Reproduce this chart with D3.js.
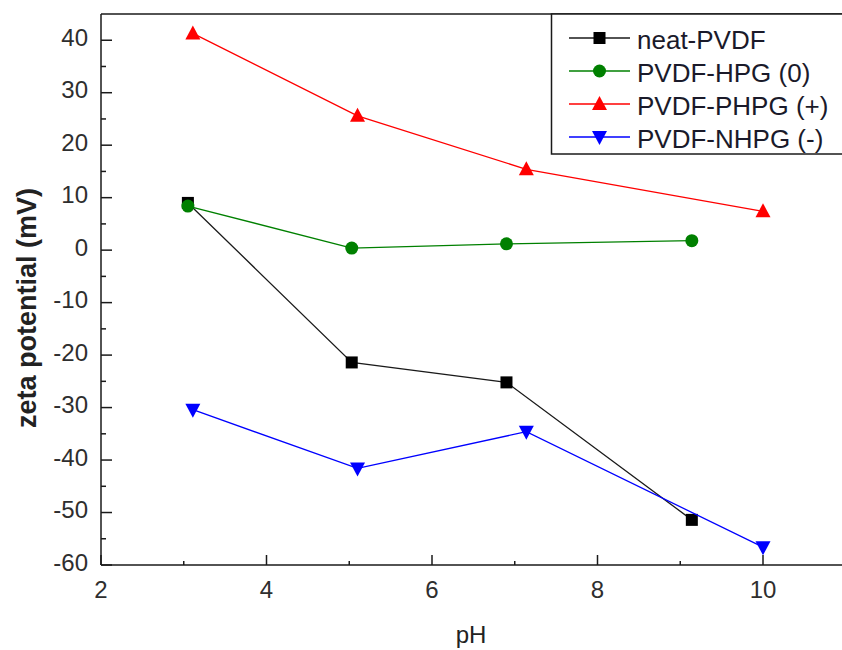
<!DOCTYPE html>
<html lang="en">
<head>
<meta charset="UTF-8">
<title>Zeta potential vs pH</title>
<script src="https://cdnjs.cloudflare.com/ajax/libs/d3/7.8.5/d3.min.js"></script>
<style>
  body { margin: 0; background: #fff; }
  svg { display: block; font-family: Arial, "Liberation Sans", sans-serif; }
  .tick-label { font-size: 24px; fill: #2e2e2e; }
  .axis-title { font-size: 27px; font-weight: bold; fill: #222; }
  .x-title { font-size: 24px; fill: #222; }
  .legend-text { font-size: 26px; fill: #1a1a2a; }
</style>
</head>
<body>
<svg id="chart"></svg>
<script>
// Series data (pH, zeta potential in mV)
const neatX = [3.05, 5.03, 6.9, 9.14];
const neatY = [9.0, -21.4, -25.2, -51.4];
const hpgX = [3.05, 5.03, 6.9, 9.14];
const hpgY = [8.4, 0.4, 1.2, 1.8];
const phpgX = [3.11, 5.1, 7.14, 10.0];
const phpgY = [41.3, 25.6, 15.4, 7.4];
const nhpgX = [3.11, 5.1, 7.14, 10.0];
const nhpgY = [-30.4, -41.6, -34.6, -56.6];

const seriesNames = ["neat-PVDF", "PVDF-HPG (0)", "PVDF-PHPG (+)", "PVDF-NHPG (-)"];
const seriesColors = ["#1a1a1a", "#008000", "#ff0000", "#0000ff"];
const seriesShapes = ["square", "circle", "triangle", "down"];

const xTicks = [2, 4, 6, 8, 10];
const yTicks = [-60, -50, -40, -30, -20, -10, 0, 10, 20, 30, 40];

const width = 842, height = 650;
const margin = { left: 101, top: 14, bottom: 85 };

const svg = d3.select("#chart").attr("width", width).attr("height", height);

const x = d3.scaleLinear().domain([2, 11]).range([margin.left, margin.left + 9 * 82.75]);
const y = d3.scaleLinear().domain([-60, 45]).range([height - margin.bottom, margin.top]);

const x0 = x(2), y0 = y(-60), yTop = y(45);

// minor ticks
const xMinor = d3.range(3, 11, 2);
const yMinor = d3.range(-55, 45, 10);

const axes = svg.append("g").attr("stroke", "#1a1a1a").attr("stroke-width", 1.5);
axes.append("line").attr("x1", x0).attr("x2", width).attr("y1", y0).attr("y2", y0);
axes.append("line").attr("x1", x0).attr("x2", x0).attr("y1", y0).attr("y2", yTop);
axes.append("line").attr("x1", x0).attr("x2", width).attr("y1", yTop).attr("y2", yTop);

axes.selectAll(".xt").data(xTicks).enter().append("line")
  .attr("x1", d => x(d)).attr("x2", d => x(d)).attr("y1", y0).attr("y2", y0 - 10);
axes.selectAll(".xm").data(xMinor).enter().append("line")
  .attr("x1", d => x(d)).attr("x2", d => x(d)).attr("y1", y0).attr("y2", y0 - 4);
axes.selectAll(".yt").data(yTicks).enter().append("line")
  .attr("x1", x0).attr("x2", x0 + 11).attr("y1", d => y(d)).attr("y2", d => y(d));
axes.selectAll(".ym").data(yMinor).enter().append("line")
  .attr("x1", x0).attr("x2", x0 + 5).attr("y1", d => y(d)).attr("y2", d => y(d));

svg.selectAll(".xl").data(xTicks).enter().append("text")
  .attr("class", "tick-label").attr("x", d => x(d)).attr("y", y0 + 33)
  .attr("text-anchor", "middle").text(d => d);
svg.selectAll(".yl").data(yTicks).enter().append("text")
  .attr("class", "tick-label").attr("x", x0 - 13).attr("y", d => y(d) + 5.5)
  .attr("text-anchor", "end").text(d => d);

svg.append("text").attr("class", "x-title")
  .attr("x", 471).attr("y", 643).attr("text-anchor", "middle").text("pH");
svg.append("text").attr("class", "axis-title")
  .attr("transform", "translate(36,308) rotate(-90)")
  .attr("text-anchor", "middle").text("zeta potential (mV)");

function drawMarker(g, shape, color, cx, cy) {
  if (shape === "square") {
    g.append("rect").attr("x", cx - 6).attr("y", cy - 6).attr("width", 12).attr("height", 12).attr("fill", "#000");
  } else if (shape === "circle") {
    g.append("circle").attr("cx", cx).attr("cy", cy).attr("r", 6.5).attr("fill", color);
  } else if (shape === "triangle") {
    g.append("path").attr("d", `M${cx},${cy - 8}L${cx + 7.5},${cy + 6}L${cx - 7.5},${cy + 6}Z`).attr("fill", color);
  } else {
    g.append("path").attr("d", `M${cx},${cy + 8}L${cx + 7.5},${cy - 6}L${cx - 7.5},${cy - 6}Z`).attr("fill", color);
  }
}

const allX = [neatX, hpgX, phpgX, nhpgX];
const allY = [neatY, hpgY, phpgY, nhpgY];
const line = d3.line().x(d => x(d[0])).y(d => y(d[1]));

allX.forEach((xs, i) => {
  const pts = xs.map((v, j) => [v, allY[i][j]]);
  const g = svg.append("g");
  g.append("path").datum(pts).attr("d", line)
    .attr("fill", "none").attr("stroke", seriesColors[i]).attr("stroke-width", 1.3);
  pts.forEach(p => drawMarker(g, seriesShapes[i], seriesColors[i], x(p[0]), y(p[1])));
});

// Legend
const lg = svg.append("g");
lg.append("rect").attr("x", 551.5).attr("y", yTop).attr("width", 300).attr("height", 154 - yTop)
  .attr("fill", "#fff").attr("stroke", "#1a1a1a").attr("stroke-width", 1.5);
seriesNames.forEach((name, i) => {
  const ly = 38 + i * 33;
  lg.append("line").attr("x1", 569).attr("x2", 630).attr("y1", ly).attr("y2", ly)
    .attr("stroke", seriesColors[i]).attr("stroke-width", 1.3);
  drawMarker(lg, seriesShapes[i], seriesColors[i], 599.5, ly);
  lg.append("text").attr("class", "legend-text").attr("x", 637).attr("y", ly + 10.5).text(name);
});
</script>
</body>
</html>
